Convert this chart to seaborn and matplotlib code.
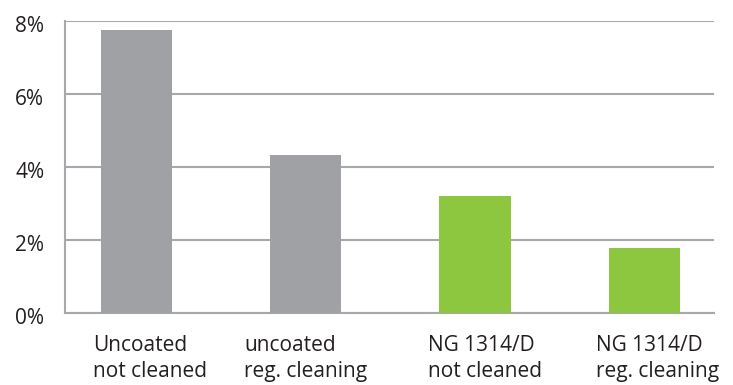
import matplotlib
matplotlib.use("Agg")
import matplotlib.pyplot as plt
import matplotlib.transforms as mtransforms
import seaborn as sns
import pandas as pd
from matplotlib.ticker import FuncFormatter

categories = ["Uncoated\nnot cleaned", "uncoated\nreg. cleaning",
              "NG 1314/D\nnot cleaned", "NG 1314/D\nreg. cleaning"]
values = [7.75, 4.33, 3.2, 1.79]
bar_colors = ["#a0a1a5", "#a0a1a5", "#8dc63f", "#8dc63f"]
y_ticks = [0, 2, 4, 6, 8]
label_shift_px = [-43.5, -61.5, -47.5, -48.5]

sns.set_theme(style="white")
plt.rcParams['font.family'] = ['Open Sans', 'DejaVu Sans']

df = pd.DataFrame({"cat": categories, "val": values})

fig = plt.figure(figsize=(7.33, 3.85), dpi=100)
ax = fig.add_axes([65/733, 1-313/385, (714-65)/733, (313-21)/385])

sns.barplot(data=df, x="cat", y="val", hue="cat", palette=bar_colors,
            legend=False, width=0.42, ax=ax, saturation=1, zorder=3,
            linewidth=0, edgecolor="none")

ax.set_xlim(-0.42, 3.41)
ax.set_ylim(0, 8)
ax.set_yticks(y_ticks)
ax.yaxis.set_major_formatter(FuncFormatter(lambda v, p: f"{v:.0f}%"))
ax.set_xlabel("")
ax.set_ylabel("")

ax.grid(axis="y", color="#a7a8ab", linewidth=1.5, zorder=0)
ax.set_axisbelow(True)
for s in ["top", "right"]:
    ax.spines[s].set_visible(False)
ax.spines["left"].set_color("#a7a8ab")
ax.spines["left"].set_linewidth(1.5)
ax.spines["bottom"].set_color("#a7a8ab")
ax.spines["bottom"].set_linewidth(1.5)

ax.tick_params(axis="both", length=0, labelsize=15, colors="#231f20")
ax.tick_params(axis="y", pad=15)
ax.tick_params(axis="x", pad=16)
for lbl, dx in zip(ax.get_xticklabels(), label_shift_px):
    lbl.set_linespacing(1.3)
    lbl.set_horizontalalignment("left")
    lbl.set_multialignment("left")
    lbl.set_transform(lbl.get_transform() +
                      mtransforms.ScaledTranslation(dx / 100, 0, fig.dpi_scale_trans))
for lbl in ax.get_yticklabels():
    lbl.set_transform(lbl.get_transform() +
                      mtransforms.ScaledTranslation(0, -3 / 100, fig.dpi_scale_trans))

fig.savefig("out.png", dpi=100)
